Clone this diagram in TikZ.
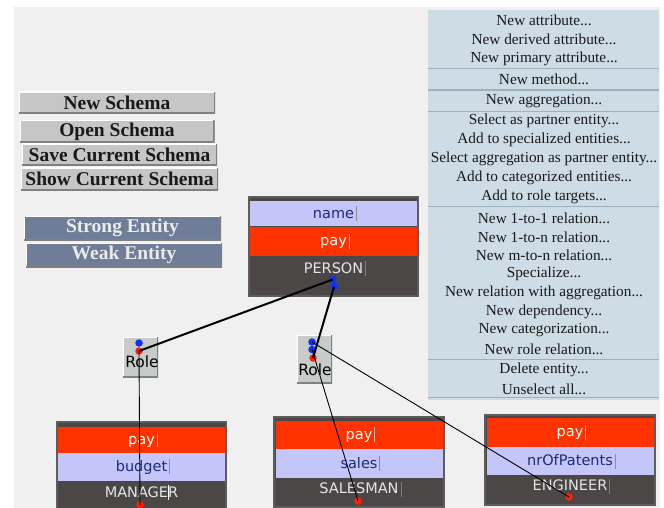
\documentclass[tikz,border=0pt]{standalone}
\usepackage{fontspec}
\setmainfont{Liberation Serif}
\newfontfamily\guisans{DejaVu Sans}
\usetikzlibrary{positioning}

\definecolor{bggray}{HTML}{F0F0F0}
\definecolor{menubg}{HTML}{CEDCE6}
\definecolor{menuline}{HTML}{9EB0BE}
\definecolor{btngray}{HTML}{C6C6C6}
\definecolor{entbtn}{HTML}{6F7D98}
\definecolor{lavender}{HTML}{C4C6FA}
\definecolor{payred}{HTML}{FF3300}
\definecolor{entdark}{HTML}{4B4747}
\definecolor{entedge}{HTML}{5E5C5C}
\definecolor{navytext}{HTML}{1E2A78}
\definecolor{rolegray}{HTML}{C8CCC8}
\definecolor{portblue}{HTML}{1030FF}
\definecolor{portred}{HTML}{FF2000}

% text field caret, zero width
\newcommand\fieldcaret[1]{\rlap{\hspace{2pt}\textcolor{#1}{\rule[-3pt]{0.6pt}{15pt}}}}

\begin{document}
\begin{tikzpicture}[
  x=1pt, y=-1pt,
  every node/.style={inner sep=0pt},
  raised/.style={path picture={
      \draw[white, line width=2pt] (path picture bounding box.south west)
        -- (path picture bounding box.north west) -- (path picture bounding box.north east);
      \draw[black!50, line width=3pt] (path picture bounding box.south west)
        -- (path picture bounding box.south east) -- (path picture bounding box.north east);}},
  button/.style={fill=btngray, raised, minimum height=22pt,
                 font=\fontsize{19.5}{21}\selectfont\bfseries, text=black!90},
  entbutton/.style={button, fill=entbtn, minimum height=24pt, text=black!8},
  menuitem/.style={font=\fontsize{15.3}{17}\selectfont, text=black!90},
  menusep/.style={draw=menuline, line width=1.3pt},
  entframe/.style={fill=entdark, draw=entedge, line width=1.8pt},
  field/.style={minimum width=167pt, font=\guisans\fontsize{14.5}{16}\selectfont},
  attrrow/.style={field, fill=lavender, text=navytext},
  payrow/.style={field, fill=payred, text=white},
  entname/.style={font=\guisans\fontsize{14.5}{16}\selectfont, text=black!10},
  rolebox/.style={fill=rolegray, raised, minimum width=35pt},
  roletext/.style={font=\guisans\fontsize{15.5}{17}\selectfont, text=black},
  port/.style={circle, minimum size=7.5pt},
  inport/.style={port, fill=portblue},
  outport/.style={port, fill=portred},
  link/.style={black, line width=2pt},
  arm/.style={black, line width=0.9pt},
]
\useasboundingbox (0,0) rectangle (664,508);
\fill[bggray] (14,7) rectangle (660,520);

% ---- schema buttons --------------------------------------------------
\node[button, minimum width=196pt] (newschema)  at (117,103)   {New Schema};
\node[button, minimum width=195pt] (openschema) at (117,131.5) {Open Schema};
\node[button, minimum width=195pt] (saveschema) at (119.5,155) {Save Current Schema};
\node[button, minimum width=197pt] (showschema) at (119.5,179) {Show Current Schema};

\node[entbutton, minimum width=197pt] (strongent) at (122.5,228) {Strong Entity};
\node[entbutton, minimum width=196pt] (weakent)   at (124,255)   {Weak Entity};

% ---- popup menu --------------------------------------------------------
\node[fill=menubg, minimum width=231pt, minimum height=390pt] (menu) at (543.5,205) {};

\node[menuitem] (mattr)    at (544,20)    {New attribute...};
\node[menuitem] (mderived) at (544,39.5)  {New derived attribute...};
\node[menuitem] (mprimary) at (544,59)    {New primary attribute...};
\node[menuitem] (mmethod)  at (544,79)    {New method...};
\node[menuitem] (maggr)    at (544,101)   {New aggregation...};
\node[menuitem] (mpartner) at (544,121)   {Select as partner entity...};
\node[menuitem] (mspec)    at (544,140)   {Add to specialized entities...};
\node[menuitem] (maggpart) at (544,159)   {Select aggregation as partner entity...};
\node[menuitem] (mcateg)   at (544,178)   {Add to categorized entities...};
\node[menuitem] (mroletg)  at (544,197)   {Add to role targets...};
\node[menuitem] (mone)     at (544,218)   {New 1-to-1 relation...};
\node[menuitem] (monen)    at (544,237)   {New 1-to-n relation...};
\node[menuitem] (mmn)      at (544,255.5) {New m-to-n relation...};
\node[menuitem] (mspecial) at (544,274)   {Specialize...};
\node[menuitem] (mrelagg)  at (544,293)   {New relation with aggregation...};
\node[menuitem] (mdep)     at (544,312)   {New dependency...};
\node[menuitem] (mnewcat)  at (544,330.5) {New categorization...};
\node[menuitem] (mrolerel) at (544,349)   {New role relation...};
\node[menuitem] (mdelete)  at (544,370)   {Delete entity...};
\node[menuitem] (munsel)   at (544,389)   {Unselect all...};

\draw[menusep] (menu.west |- 0,68.5)  -- (menu.east |- 0,68.5);
\draw[menusep] (menu.west |- 0,90)    -- (menu.east |- 0,90);
\draw[menusep] (menu.west |- 0,111.5) -- (menu.east |- 0,111.5);
\draw[menusep] (menu.west |- 0,206.5) -- (menu.east |- 0,206.5);
\draw[menusep] (menu.west |- 0,359.5) -- (menu.east |- 0,359.5);
\draw[menusep] (menu.west |- 0,397.5) -- (menu.east |- 0,397.5);

% ---- PERSON ----------------------------------------------------------
\node[entframe, minimum width=169pt, minimum height=99pt] (personbox) at (333.5,246.5) {};
\node[attrrow, minimum height=25pt] (personname) at (333.5,213.5) {name\fieldcaret{black!45}};
\node[payrow, minimum height=29pt]  (personpay)  at (333.5,241.5) {pay\fieldcaret{white!70!red}};
\node[entname] (person) at (333.5,268.5) {PERSON\fieldcaret{black!50}};

% ---- MANAGER ---------------------------------------------------------
\node[entframe, minimum width=169pt, minimum height=98pt] (managerbox) at (141.5,471) {};
\node[payrow, minimum height=26pt]  (managerpay)    at (141.5,440) {pay\fieldcaret{white!70!red}};
\node[attrrow, minimum height=28pt] (managerbudget) at (141.5,467) {budget\fieldcaret{black!45}};
\node[entname] (manager) at (141.5,492.5) {MANAGE\rlap{\textcolor{white}{\rule[-3pt]{0.8pt}{15pt}}}R};

% ---- SALESMAN --------------------------------------------------------
\node[entframe, minimum width=170pt, minimum height=90pt] (salesmanbox) at (359,462) {};
\node[payrow, minimum height=28pt]  (salesmanpay)   at (359,435)   {pay\fieldcaret{white!70!red}};
\node[attrrow, minimum height=29pt] (salesmansales) at (359,463.5) {sales\fieldcaret{black!45}};
\node[entname] (salesman) at (359,489) {SALESMAN\fieldcaret{black!50}};

% ---- ENGINEER --------------------------------------------------------
\node[entframe, minimum width=170pt, minimum height=90pt] (engineerbox) at (570,460) {};
\node[payrow, minimum height=29pt]  (engineerpay)     at (570,432.5) {pay\fieldcaret{white!70!red}};
\node[attrrow, minimum height=28pt] (engineerpatents) at (570,461)   {nrOfPatents\fieldcaret{black!45}};
\node[entname] (engineer) at (570,486) {ENGINEER\fieldcaret{black!50}};

% ---- roles -----------------------------------------------------------
\node[rolebox, minimum height=40pt] (roleA) at (140.5,357) {};
\node[roletext] (roleAtext) at (142,362) {Role};
\node[rolebox, minimum height=48pt] (roleB) at (314.5,359) {};
\node[roletext] (roleBtext) at (315,370) {Role};

% ---- ports -----------------------------------------------------------
\node[inport]  (personportA) at (332.7,279.5) {};
\node[inport]  (personportB) at (334,286.7)   {};
\node[inport]  (roleAin)     at (139,343)     {};
\node[outport] (roleAout)    at (139,351)     {};
\node[inport]  (roleBinA)    at (312,342)     {};
\node[inport]  (roleBinB)    at (312,349.5)   {};
\node[outport] (roleBout)    at (313,358)     {};
\node[outport] (managerport)  at (140,505)    {};
\node[outport] (salesmanport) at (358,501)    {};
\node[outport] (engineerport) at (569,497)    {};

% ---- connectors ------------------------------------------------------
\draw[link] (personportA.center) -- (roleAout.center);
\draw[link] (personportB.center) -- (roleBout.center);

\draw[arm] (roleAout.center) -- (managerport.center);
\draw[arm] (roleBinB.center) -- (salesmanport.center);
\draw[arm] (roleBinA.center) -- (engineerport.center);

\end{tikzpicture}
\end{document}
